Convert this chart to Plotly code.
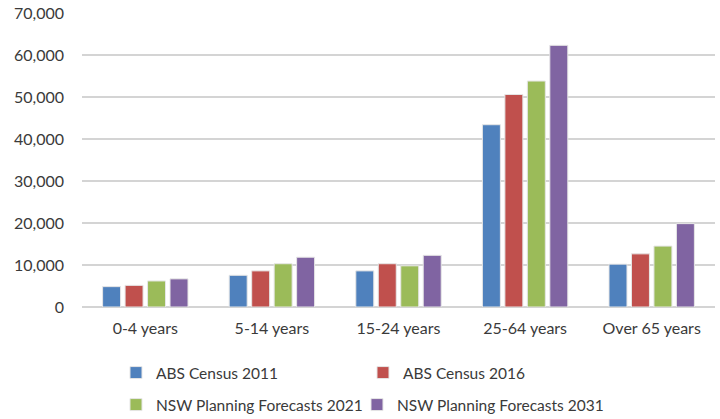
import plotly.graph_objects as go

categories = ["0-4 years", "5-14 years", "15-24 years", "25-64 years", "Over 65 years"]
series_names = ["ABS Census 2011", "ABS Census 2016", "NSW Planning Forecasts 2021", "NSW Planning Forecasts 2031"]
abs_2011 = [4850, 7550, 8600, 43400, 10200]
abs_2016 = [5150, 8600, 10300, 50600, 12650]
nsw_2021 = [6200, 10300, 9800, 53800, 14500]
nsw_2031 = [6700, 11850, 12300, 62300, 19850]
colors = ["#4F81BD", "#C0504D", "#9BBB59", "#8064A2"]
legend_ids = ["legend", "legend2", "legend3", "legend4"]
y_ticks = [0, 10000, 20000, 30000, 40000, 50000, 60000, 70000]

fig = go.Figure()
for name, vals, c, lg in zip(series_names, [abs_2011, abs_2016, nsw_2021, nsw_2031], colors, legend_ids):
    fig.add_trace(go.Bar(x=categories, y=vals, name=name, legend=lg,
                         marker=dict(color=c, line=dict(color="#e6e6e6", width=1))))

font = dict(family="Lato, Open Sans, sans-serif", size=16, color="#3a3a3a")
lfont = dict(family="Lato, Open Sans, sans-serif", size=15.5, color="#3a3a3a")
legend_pos = {"legend": (0.0537, -0.2245), "legend2": (0.4439, -0.2245),
              "legend3": (0.0537, -0.3333), "legend4": (0.4344, -0.3333)}
legends = {k: dict(orientation="h", x=x, xanchor="left", y=y, yanchor="middle",
                   font=lfont, itemwidth=30, bgcolor="rgba(0,0,0,0)")
           for k, (x, y) in legend_pos.items()}

fig.update_layout(
    width=720, height=419,
    margin=dict(l=82, r=5, t=13, b=112, autoexpand=False),
    paper_bgcolor="white", plot_bgcolor="white",
    barmode="group", bargap=0.29, bargroupgap=0.2,
    font=font,
    showlegend=True,
    **legends,
    xaxis=dict(showline=False, ticks="", tickfont=font, ticklabelstandoff=10),
    yaxis=dict(range=[0, 70000], tickvals=y_ticks, tickformat=",", showgrid=True,
               gridcolor="#d4d4d4", gridwidth=2, zeroline=True, zerolinecolor="#d4d4d4",
               zerolinewidth=2, ticks="", tickfont=font, ticklabelstandoff=17),
)
fig.write_html("out.html")
